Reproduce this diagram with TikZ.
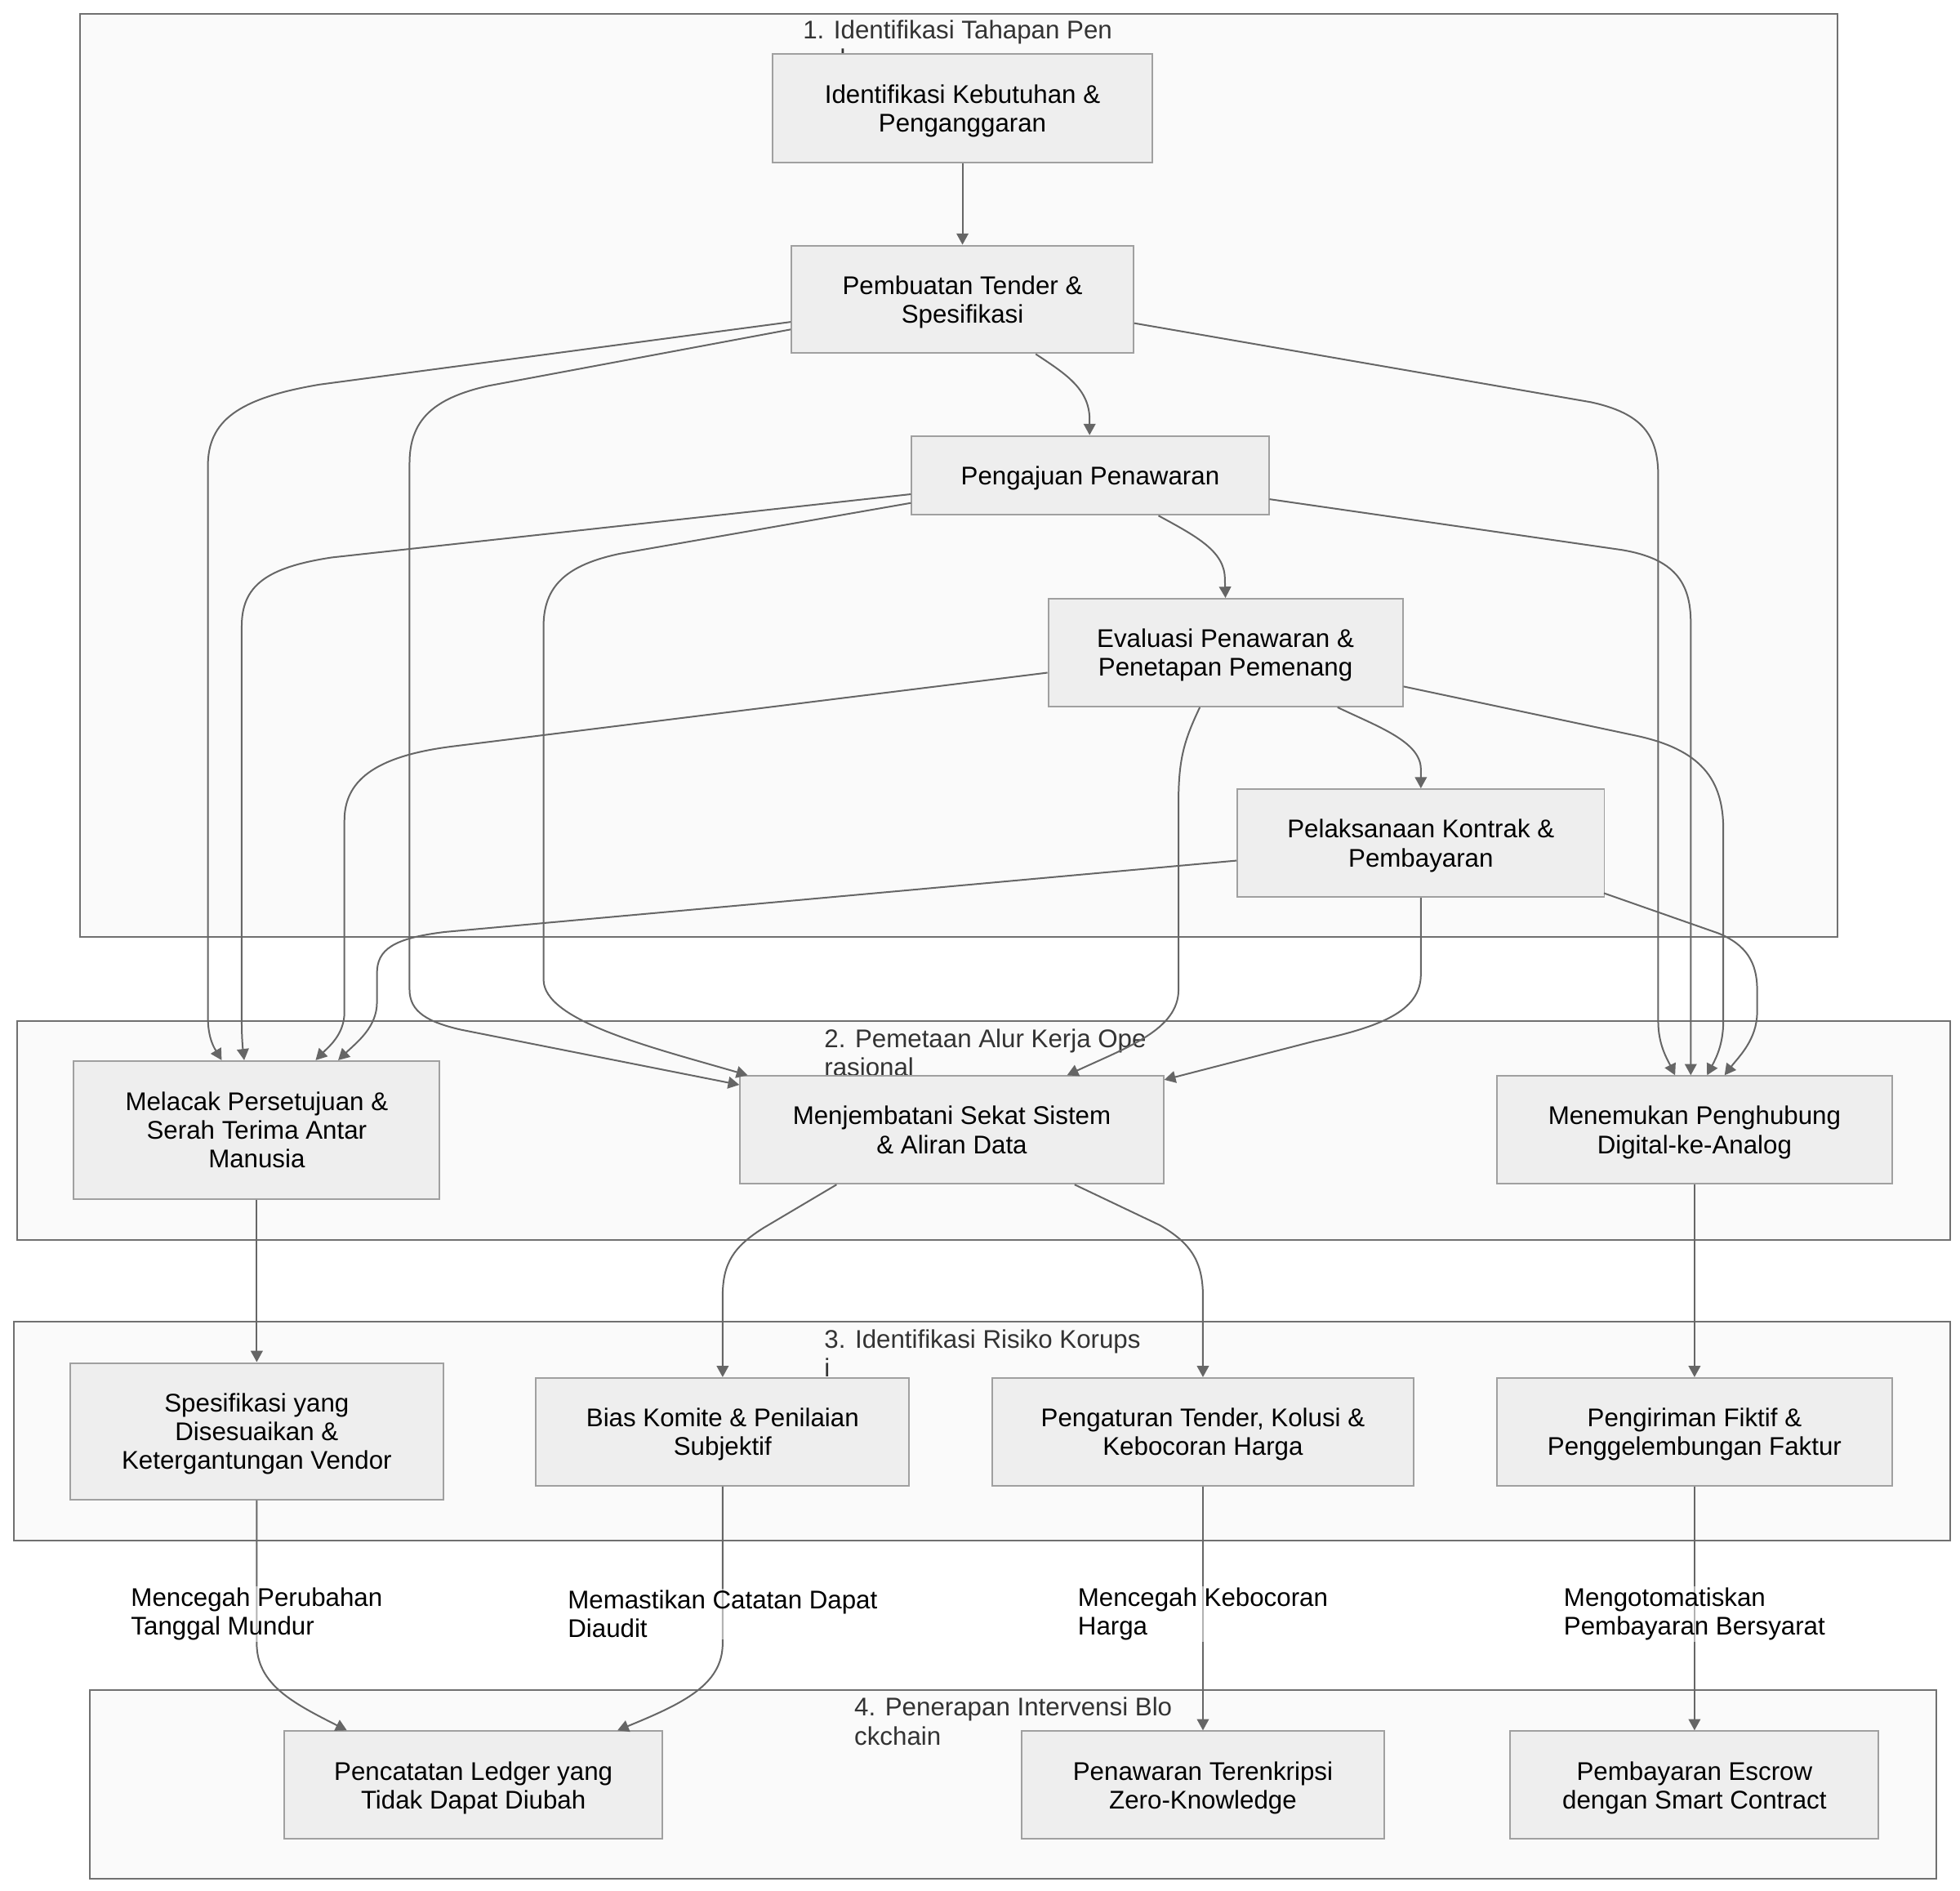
\documentclass[tikz,border=0pt]{standalone}
\usepackage{fontspec}
\setmainfont{Liberation Sans}
\usetikzlibrary{arrows.meta,calc}
\definecolor{clfill}{HTML}{FAFAFA}
\definecolor{clborder}{HTML}{707070}
\definecolor{bxfill}{HTML}{EEEEEE}
\definecolor{bxborder}{HTML}{A0A0A0}
\definecolor{edgecol}{HTML}{666666}
\definecolor{titlecol}{HTML}{333333}
\begin{document}
\begin{tikzpicture}[x=1pt,y=-1pt,
  every node/.style={font=\fontsize{20.4}{23}\selectfont},
  cluster/.style={draw=clborder,fill=clfill,line width=1.3pt},
  box/.style={draw=bxborder,fill=bxfill,line width=1.3pt,align=center,inner sep=0pt,text=black,text depth=0pt},
  ctitle/.style={anchor=base west,inner sep=0pt,text=titlecol},
  edge/.style={draw=edgecol,line width=1.3pt,-{Triangle[length=9pt,width=9.5pt]}},
  elabel/.style={align=left,inner sep=1pt,fill=white,fill opacity=0.5,text opacity=1,text=black}]
\useasboundingbox (0,0) rectangle (1565,1509);
% clusters
\draw[cluster] (64,11) rectangle (1467,748);
\draw[cluster] (14,815) rectangle (1557,990);
\draw[cluster] (11,1055) rectangle (1557,1230);
\draw[cluster] (72,1349) rectangle (1546,1500);
\node[ctitle] (t1a) at (641,31) {1. Identifikasi Tahapan Pen};
\node[ctitle] (t1b) at (641,54) {gadaan};
\node[ctitle] (t2a) at (658,836) {2. Pemetaan Alur Kerja Ope};
\node[ctitle] (t2b) at (658,859) {rasional};
\node[ctitle] (t3a) at (658,1076) {3. Identifikasi Risiko Korups};
\node[ctitle] (t3b) at (658,1099) {i};
\node[ctitle] (t4a) at (682,1370) {4. Penerapan Intervensi Blo};
\node[ctitle] (t4b) at (682,1393) {ckchain};
% nodes
\node[box,minimum width=303pt,minimum height=87pt] (A) at (768.5,86.5) {Identifikasi Kebutuhan \&\\Penganggaran};
\node[box,minimum width=273pt,minimum height=86pt] (B) at (768.5,239) {Pembuatan Tender \&\\Spesifikasi};
\node[box,minimum width=285pt,minimum height=63pt] (C) at (870.5,379.5) {Pengajuan Penawaran};
\node[box,minimum width=283pt,minimum height=86pt] (D) at (978.5,521) {Evaluasi Penawaran \&\\Penetapan Pemenang};
\node[box,minimum width=293pt,minimum height=86pt] (E) at (1134.5,673) {Pelaksanaan Kontrak \&\\Pembayaran};
\node[box,minimum width=292pt,minimum height=110pt] (F) at (205,902) {Melacak Persetujuan \&\\Serah Terima Antar\\Manusia};
\node[box,minimum width=338pt,minimum height=86pt] (G) at (760,902) {Menjembatani Sekat Sistem\\\& Aliran Data};
\node[box,minimum width=316pt,minimum height=86pt] (H) at (1353,902) {Menemukan Penghubung\\Digital-ke-Analog};
\node[box,minimum width=298pt,minimum height=109pt] (I) at (205,1142.5) {Spesifikasi yang\\Disesuaikan \&\\Ketergantungan Vendor};
\node[box,minimum width=298pt,minimum height=86pt] (J) at (577,1143) {Bias Komite \& Penilaian\\Subjektif};
\node[box,minimum width=337pt,minimum height=86pt] (K) at (960.5,1143) {Pengaturan Tender, Kolusi \&\\Kebocoran Harga};
\node[box,minimum width=316pt,minimum height=86pt] (L) at (1353,1143) {Pengiriman Fiktif \&\\Penggelembungan Faktur};
\node[box,minimum width=302pt,minimum height=86pt] (M) at (378,1425) {Pencatatan Ledger yang\\Tidak Dapat Diubah};
\node[box,minimum width=289pt,minimum height=86pt] (N) at (960.5,1425) {Penawaran Terenkripsi\\Zero-Knowledge};
\node[box,minimum width=294pt,minimum height=86pt] (O) at (1353,1425) {Pembayaran Escrow\\dengan Smart Contract};
% edges within stage 1
\draw[edge] (A.south) -- (B.north);
\draw[edge] ($(B.south)+(58.5,0)$) .. controls (850,298) and (870,310) .. (870,335) -- ($(C.north)+(-0.5,0)$);
\draw[edge] ($(C.south)+(54.5,0)$) .. controls (955,428) and (978,440) .. (978,462) -- (D.north);
\draw[edge] ($(D.south)+(89.5,0)$) .. controls (1100,580) and (1134.5,592) .. (1134.5,614) -- (E.north);
% from B
\draw[edge] ($(B.west)+(0,18)$) -- (255,307) .. controls (190,318) and (166,336) .. (166,372) -- (166,812) .. controls (166,830) and (172,838) .. ($(F.north)+(-28,0)$);
\draw[edge] ($(B.west)+(0,24)$) -- (390,308) .. controls (345,318) and (327,336) .. (327,370) -- (327,790) .. controls (327,808) and (342,816) .. (368,822) -- ($(G.west)+(0,-36)$);
\draw[edge] ($(B.east)+(0,19)$) -- (1270,321) .. controls (1312,330) and (1324,348) .. (1324,380) -- (1324,815) .. controls (1324,834) and (1331,845) .. ($(H.north)+(-15.5,0)$);
% from C
\draw[edge] ($(C.west)+(0,15)$) -- (265,445) .. controls (212,453) and (193,468) .. (193,500) -- (193,815) .. controls (193,830) and (194,838) .. ($(F.north)+(-10,0)$);
\draw[edge] ($(C.west)+(0,22)$) -- (495,442) .. controls (452,451) and (434,468) .. (434,500) -- (434,782) .. controls (434,815) and (520,836) .. ($(G.north)+(-163,0)$);
\draw[edge] ($(C.east)+(0,19)$) -- (1295,439) .. controls (1337,446) and (1350,465) .. (1350,497) -- ($(H.north)+(-3,0)$);
% from D
\draw[edge] ($(D.west)+(0,16)$) -- (360,596) .. controls (298,604) and (275,624) .. (275,655) -- (275,808) .. controls (275,826) and (262,836) .. ($(F.north)+(47,0)$);
\draw[edge] ($(D.south)+(-20.5,0)$) .. controls (946,590) and (941,605) .. (941,640) -- (941,790) .. controls (941,822) and (900,836) .. ($(G.north)+(92,0)$);
\draw[edge] ($(D.east)+(0,27)$) -- (1305,587) .. controls (1358,598) and (1376,622) .. (1376,662) -- (1376,815) .. controls (1376,834) and (1370,845) .. ($(H.north)+(10,0)$);
% from E
\draw[edge] ($(E.west)+(0,14)$) -- (355,744) .. controls (314,749) and (301,758) .. (301,777) -- (301,800) .. controls (301,820) and (285,832) .. ($(F.north)+(65,0)$);
\draw[edge] (E.south) -- (1134.5,778) .. controls (1134.5,808) and (1100,820) .. (1050,831) -- ($(G.east)+(0,-40)$);
\draw[edge] ($(E.east)+(-1,40)$) -- (1372,745) .. controls (1394,754) and (1403,768) .. (1403,790) -- (1403,808) .. controls (1403,830) and (1388,844) .. ($(H.north)+(24,0)$);
% stage 2 -> 3
\draw[edge] (F.south) -- (I.north);
\draw[edge] ($(G.south)+(-92,0)$) -- (610,980) .. controls (586,995) and (577,1008) .. (577,1035) -- (J.north);
\draw[edge] ($(G.south)+(98,0)$) -- (926,978) .. controls (950,992) and (960.5,1006) .. (960.5,1035) -- (K.north);
\draw[edge] (H.south) -- (L.north);
% stage 3 -> 4
\draw[edge] (I.south) -- (205,1312) .. controls (205,1345) and (235,1360) .. ($(M.north)+(-101,0)$);
\draw[edge] (J.south) -- (577,1312) .. controls (577,1345) and (545,1360) .. ($(M.north)+(115,0)$);
\draw[edge] (K.south) -- (N.north);
\draw[edge] (L.south) -- (O.north);
% edge labels
\node[elabel] (l1) at (205,1288.5) {Mencegah Perubahan\\Tanggal Mundur};
\node[elabel] (l2) at (577,1288.5) {Memastikan Catatan Dapat\\Diaudit};
\node[elabel] (l3) at (960.5,1288.5) {Mencegah Kebocoran\\Harga};
\node[elabel] (l4) at (1353,1288.5) {Mengotomatiskan\\Pembayaran Bersyarat};
\end{tikzpicture}
\end{document}
